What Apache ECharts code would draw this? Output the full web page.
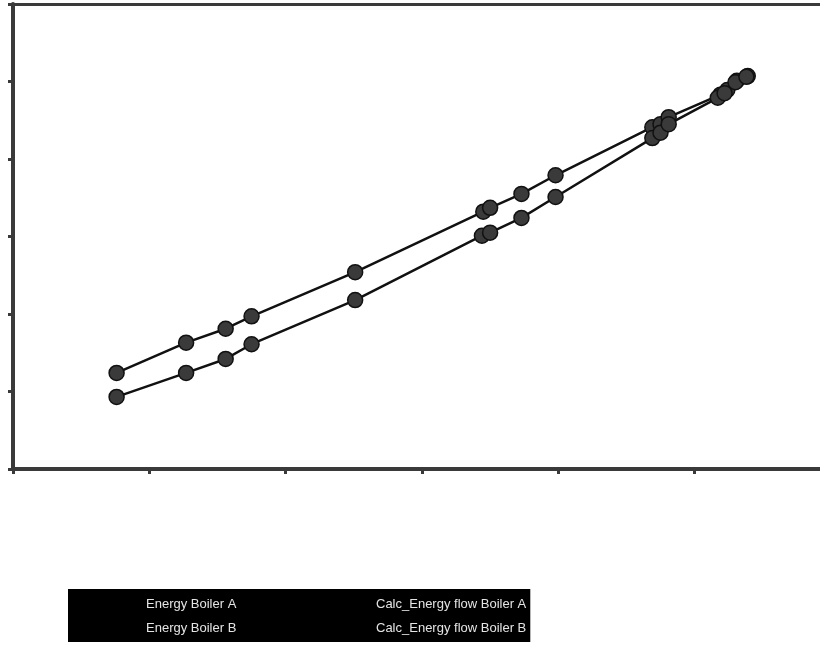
<!DOCTYPE html>
<html>
<head>
<meta charset="utf-8">
<script src="https://cdn.jsdelivr.net/npm/echarts@6/dist/echarts.min.js"></script>
<style>
html,body{margin:0;padding:0;background:#fff;}
#chart{width:820px;height:670px;}
</style>
</head>
<body>
<div id="chart"></div>
<script>
var seriesNames = ['Energy Boiler A', 'Calc_Energy flow Boiler A', 'Energy Boiler B', 'Calc_Energy flow Boiler B'];
var xTicks = [0, 1, 2, 3, 4, 5];
var yTicks = [0, 1, 2, 3, 4, 5, 6];

var boilerAX = [0.76, 1.27, 1.56, 1.75, 2.51, 3.45, 3.50, 3.73, 3.98, 4.69, 4.75, 4.81, 5.19, 5.24, 5.31, 5.39];
var boilerAY = [1.24, 1.63, 1.81, 1.97, 2.54, 3.32, 3.37, 3.55, 3.79, 4.41, 4.45, 4.54, 4.83, 4.89, 5.01, 5.07];
var boilerBX = [0.76, 1.27, 1.56, 1.75, 2.51, 3.44, 3.50, 3.73, 3.98, 4.69, 4.75, 4.81, 5.17, 5.22, 5.30, 5.38];
var boilerBY = [0.93, 1.24, 1.42, 1.61, 2.18, 3.01, 3.05, 3.24, 3.51, 4.27, 4.34, 4.45, 4.79, 4.85, 4.99, 5.06];

function pairs(xs, ys) { return xs.map(function (x, i) { return [x, ys[i]]; }); }

var axisColor = '#3a3a3a';
var chart = echarts.init(document.getElementById('chart'));
chart.setOption({
  animation: false,
  backgroundColor: '#fff',
  grid: { left: 13, right: 0, top: 4, bottom: 201, containLabel: false },
  xAxis: [{
    type: 'value', min: 0, max: 5.92, interval: 1, position: 'bottom',
    axisLine: { show: true, onZero: false, lineStyle: { color: axisColor, width: 4 } },
    axisTick: { show: true, length: 5, customValues: xTicks, lineStyle: { color: axisColor, width: 3 } },
    axisLabel: { show: false },
    splitLine: { show: false }
  }, {
    type: 'value', min: 0, max: 5.92, position: 'top',
    axisLine: { show: true, onZero: false, lineStyle: { color: axisColor, width: 3 } },
    axisTick: { show: false }, axisLabel: { show: false }, splitLine: { show: false }
  }],
  yAxis: {
    type: 'value', min: 0, max: 6, interval: 1,
    axisLine: { show: true, onZero: false, lineStyle: { color: axisColor, width: 4 } },
    axisTick: { show: true, length: 5, customValues: yTicks, lineStyle: { color: axisColor, width: 3 } },
    axisLabel: { show: false },
    splitLine: { show: false }
  },
  legend: {
    data: seriesNames,
    left: 68, top: 589, width: 540,
    orient: 'horizontal',
    backgroundColor: '#000',
    padding: [5, 4, 3, 0],
    itemGap: 3,
    itemWidth: 72, itemHeight: 14,
    icon: 'rect',
    itemStyle: { opacity: 0 },
    lineStyle: { opacity: 0 },
    selectedMode: false,
    textStyle: { color: '#e4e4e4', fontFamily: 'Liberation Sans', fontSize: 13, width: 150, lineHeight: 21, overflow: 'none' }
  },
  series: [{
    name: seriesNames[0], type: 'scatter', data: pairs(boilerAX, boilerAY), z: 3,
    symbolSize: 15, itemStyle: { color: '#3a3a3a', borderColor: '#111', borderWidth: 1.5, opacity: 1 }
  }, {
    name: seriesNames[1], type: 'line', data: pairs(boilerAX, boilerAY), z: 2,
    showSymbol: false, symbol: 'none', lineStyle: { color: '#111', width: 2.5 }, itemStyle: { color: '#111' }
  }, {
    name: seriesNames[2], type: 'scatter', data: pairs(boilerBX, boilerBY), z: 3,
    symbolSize: 15, itemStyle: { color: '#3a3a3a', borderColor: '#111', borderWidth: 1.5, opacity: 1 }
  }, {
    name: seriesNames[3], type: 'line', data: pairs(boilerBX, boilerBY), z: 2,
    showSymbol: false, symbol: 'none', lineStyle: { color: '#111', width: 2.5 }, itemStyle: { color: '#111' }
  }]
});
</script>
</body>
</html>
